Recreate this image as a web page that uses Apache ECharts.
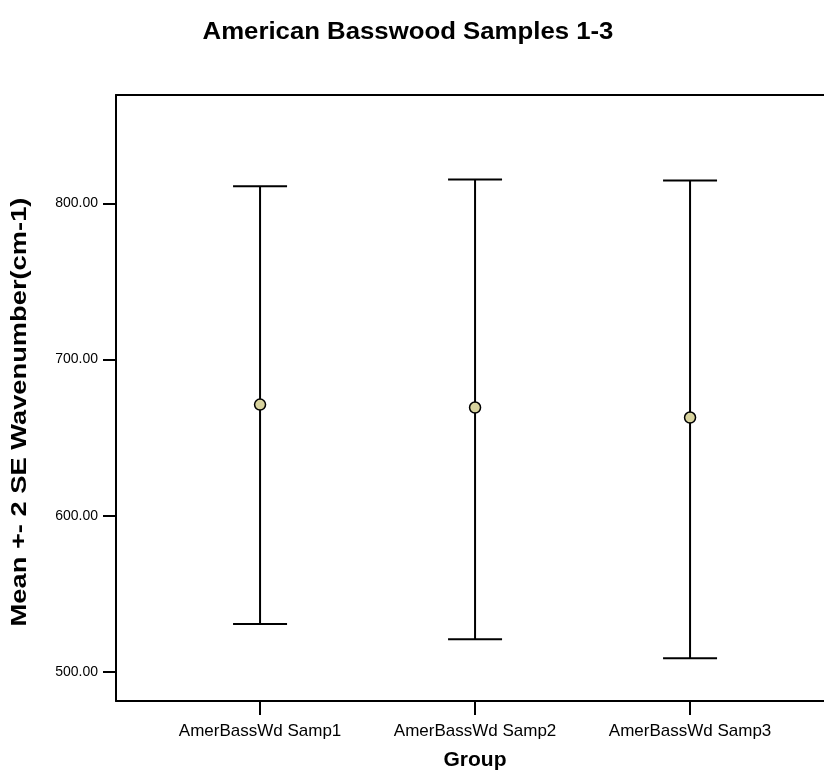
<!DOCTYPE html>
<html>
<head>
<meta charset="utf-8">
<script src="https://cdn.jsdelivr.net/npm/echarts@6/dist/echarts.min.js"></script>
<style>html,body{margin:0;padding:0;background:#fff}#c{width:824px;height:776px}</style>
</head>
<body>
<div id="c"></div>
<script>
const categories = ['AmerBassWd Samp1', 'AmerBassWd Samp2', 'AmerBassWd Samp3'];
const means = [671.2, 669.3, 662.9];
const lowers = [530.7, 520.9, 508.8];
const uppers = [811.0, 815.3, 814.7];
const yTicks = [500, 600, 700, 800];

const chart = echarts.init(document.getElementById('c'));
const font = 'Liberation Sans, Arial, sans-serif';
const errData = categories.map((c, i) => [i + 1, lowers[i], uppers[i]]);
const meanData = categories.map((c, i) => [i + 1, means[i]]);

chart.setOption({
  animation: false,
  backgroundColor: '#fff',
  grid: { left: 116, top: 95, bottom: 75, right: 0, show: false, containLabel: false },
  xAxis: [{
    type: 'value', min: 0.330, max: 3.623,
    axisLine: { show: true, lineStyle: { color: '#000', width: 2 } },
    axisTick: { show: true, customValues: [1, 2, 3], length: 14, lineStyle: { color: '#000', width: 2 } },
    axisLabel: { customValues: [1, 2, 3], margin: 22, fontFamily: font, fontSize: 17, color: '#000',
      formatter: v => categories[Math.round(v) - 1] || '' },
    splitLine: { show: false }
  }, {
    type: 'value', position: 'top', min: 0.330, max: 3.623,
    axisLine: { show: true, lineStyle: { color: '#000', width: 2 } },
    axisTick: { show: false }, axisLabel: { show: false }, splitLine: { show: false }
  }],
  yAxis: {
    type: 'value', min: 481.4, max: 869.4,
    axisLine: { show: true, lineStyle: { color: '#000', width: 2 } },
    axisTick: { show: true, customValues: yTicks, length: 13, lineStyle: { color: '#000', width: 2 } },
    axisLabel: { customValues: yTicks, margin: 18, fontFamily: font, fontSize: 14, color: '#000',
      formatter: v => Number(v).toFixed(2) },
    splitLine: { show: false }
  },
  graphic: [{
    type: 'text', x: 408, y: 33, scaleX: 1.12,
    style: { text: 'American Basswood Samples 1-3', fontFamily: font, fontSize: 23, fontWeight: 'bold', fill: '#000',
      textAlign: 'center', textVerticalAlign: 'middle' }
  }, {
    type: 'text', x: 20, y: 412, rotation: Math.PI / 2, scaleX: 1.24,
    style: { text: 'Mean +- 2 SE Wavenumber(cm-1)', fontFamily: font, fontSize: 22, fontWeight: 'bold', fill: '#000',
      textAlign: 'center', textVerticalAlign: 'middle' }
  }, {
    type: 'text', x: 475, y: 760,
    style: { text: 'Group', fontFamily: font, fontSize: 21, fontWeight: 'bold', fill: '#000',
      textAlign: 'center', textVerticalAlign: 'middle' }
  }],
  series: [{
    type: 'custom',
    data: errData,
    renderItem: (params, api) => {
      const x = api.value(0);
      const lo = api.coord([x, api.value(1)]);
      const hi = api.coord([x, api.value(2)]);
      const hw = 27;
      const st = { stroke: '#000', lineWidth: 2 };
      return { type: 'group', children: [
        { type: 'line', shape: { x1: lo[0], y1: lo[1], x2: hi[0], y2: hi[1] }, style: st },
        { type: 'line', shape: { x1: lo[0] - hw, y1: lo[1], x2: lo[0] + hw, y2: lo[1] }, style: st },
        { type: 'line', shape: { x1: hi[0] - hw, y1: hi[1], x2: hi[0] + hw, y2: hi[1] }, style: st }
      ]};
    },
    z: 2
  }, {
    type: 'scatter',
    data: meanData,
    symbol: 'circle', symbolSize: 11,
    itemStyle: { color: '#d8d39e', borderColor: '#000', borderWidth: 1.5, opacity: 1 },
    z: 3
  }]
});
</script>
</body>
</html>
